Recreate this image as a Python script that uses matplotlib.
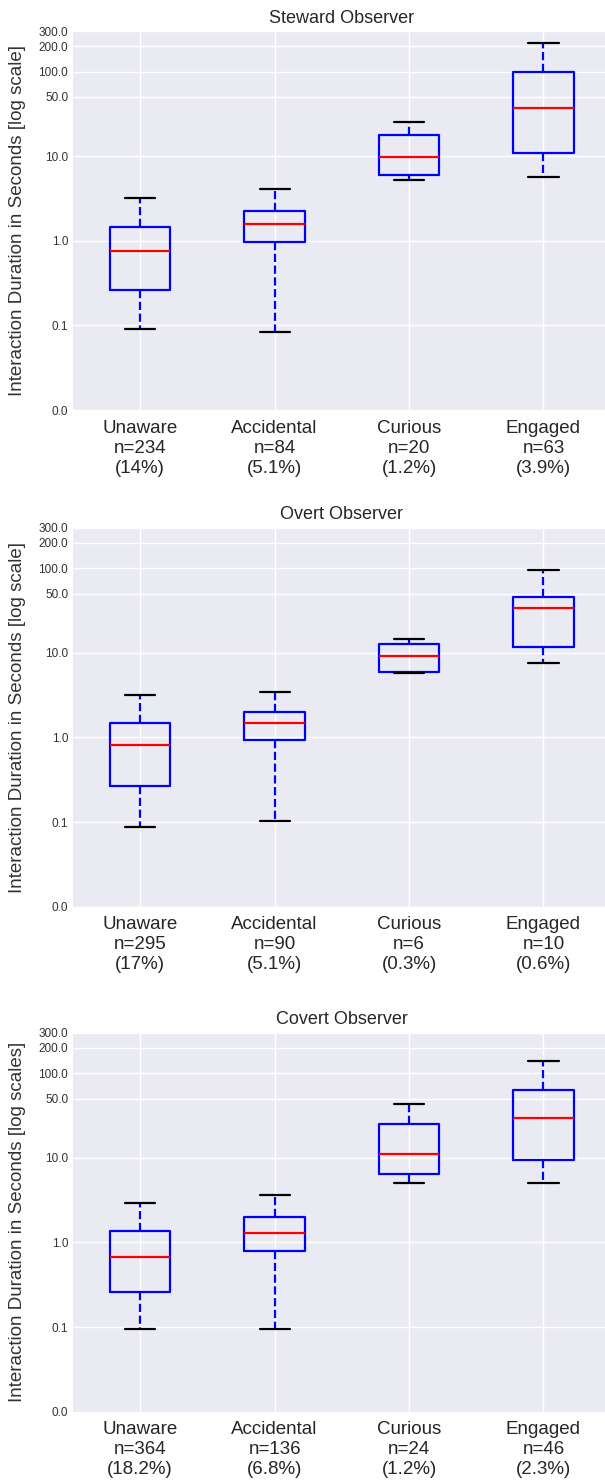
import matplotlib
matplotlib.use("Agg")
import matplotlib.pyplot as plt
from matplotlib.ticker import FormatStrFormatter, NullLocator

plt.style.use("seaborn-v0_8-darkgrid")
plt.rcParams["font.family"] = ["Liberation Sans", "DejaVu Sans"]

# Categories and box statistics (seconds)
categories = ["Unaware", "Accidental", "Curious", "Engaged"]
titles = ["Steward Observer", "Overt Observer", "Covert Observer"]
ylabels = ["Interaction Duration in Seconds [log scale]",
           "Interaction Duration in Seconds [log scale]",
           "Interaction Duration in Seconds [log scales]"]

# Steward
steward_n = ["234", "84", "20", "63"]
steward_pct = ["14%", "5.1%", "1.2%", "3.9%"]
steward_whislo = [0.09, 0.083, 5.2, 5.7]
steward_q1 = [0.26, 0.97, 6.0, 10.8]
steward_med = [0.76, 1.58, 9.7, 36.7]
steward_q3 = [1.46, 2.25, 17.7, 100.0]
steward_whishi = [3.2, 4.1, 25.0, 219.0]

# Overt
overt_n = ["295", "90", "6", "10"]
overt_pct = ["17%", "5.1%", "0.3%", "0.6%"]
overt_whislo = [0.088, 0.103, 5.7, 7.6]
overt_q1 = [0.27, 0.92, 6.0, 11.7]
overt_med = [0.81, 1.50, 9.06, 34.1]
overt_q3 = [1.50, 1.97, 12.8, 45.3]
overt_whishi = [3.2, 3.45, 14.6, 94.5]

# Covert
covert_n = ["364", "136", "24", "46"]
covert_pct = ["18.2%", "6.8%", "1.2%", "2.3%"]
covert_whislo = [0.094, 0.096, 5.1, 5.1]
covert_q1 = [0.26, 0.80, 6.4, 9.4]
covert_med = [0.666, 1.29, 11.2, 29.5]
covert_q3 = [1.38, 1.98, 25.1, 63.6]
covert_whishi = [2.92, 3.6, 43.6, 138.0]

yticks = [0.01, 0.1, 1, 10, 50, 100, 200, 300]

panels = [
    (steward_n, steward_pct, steward_whislo, steward_q1, steward_med, steward_q3, steward_whishi),
    (overt_n, overt_pct, overt_whislo, overt_q1, overt_med, overt_q3, overt_whishi),
    (covert_n, covert_pct, covert_whislo, covert_q1, covert_med, covert_q3, covert_whishi),
]

fig = plt.figure(figsize=(6.05, 14.82), dpi=100)
bottoms = [0.7233, 0.3882, 0.0474]

for k, (ns, pcts, wlo, q1, med, q3, whi) in enumerate(panels):
    ax = fig.add_axes([0.1207, bottoms[k], 0.8886, 0.2557])
    stats = []
    for i in range(len(categories)):
        stats.append(dict(whislo=wlo[i], q1=q1[i], med=med[i], q3=q3[i],
                          whishi=whi[i], fliers=[]))
    ax.bxp(stats, positions=[1, 2, 3, 4], widths=0.45, showfliers=False,
           boxprops=dict(color="blue", linewidth=1.6),
           medianprops=dict(color="red", linewidth=1.6),
           whiskerprops=dict(color="blue", linewidth=1.6, linestyle="--"),
           capprops=dict(color="black", linewidth=1.6))
    ax.set_yscale("log")
    ax.set_ylim(0.01, 300)
    ax.set_xlim(0.5, 4.5)
    ax.set_yticks(yticks)
    ax.yaxis.set_major_formatter(FormatStrFormatter("%.1f"))
    ax.yaxis.set_minor_locator(NullLocator())
    ax.tick_params(axis="y", labelsize=8.5, colors="#333333")
    labels = [f"{c}\nn={n}\n({p})" for c, n, p in zip(categories, ns, pcts)]
    ax.set_xticks([1, 2, 3, 4])
    ax.set_xticklabels(labels, fontsize=13.5, color="#262626", linespacing=1.22)
    ax.tick_params(axis="x", pad=7)
    ax.set_title(titles[k], fontsize=13, color="#262626")
    ax.set_ylabel(ylabels[k], fontsize=13.5, color="#333333")
    ax.yaxis.set_label_coords(-0.088, 0.5)
    ax.grid(True, color="white", linewidth=1)

fig.savefig("out.png", dpi=100)
